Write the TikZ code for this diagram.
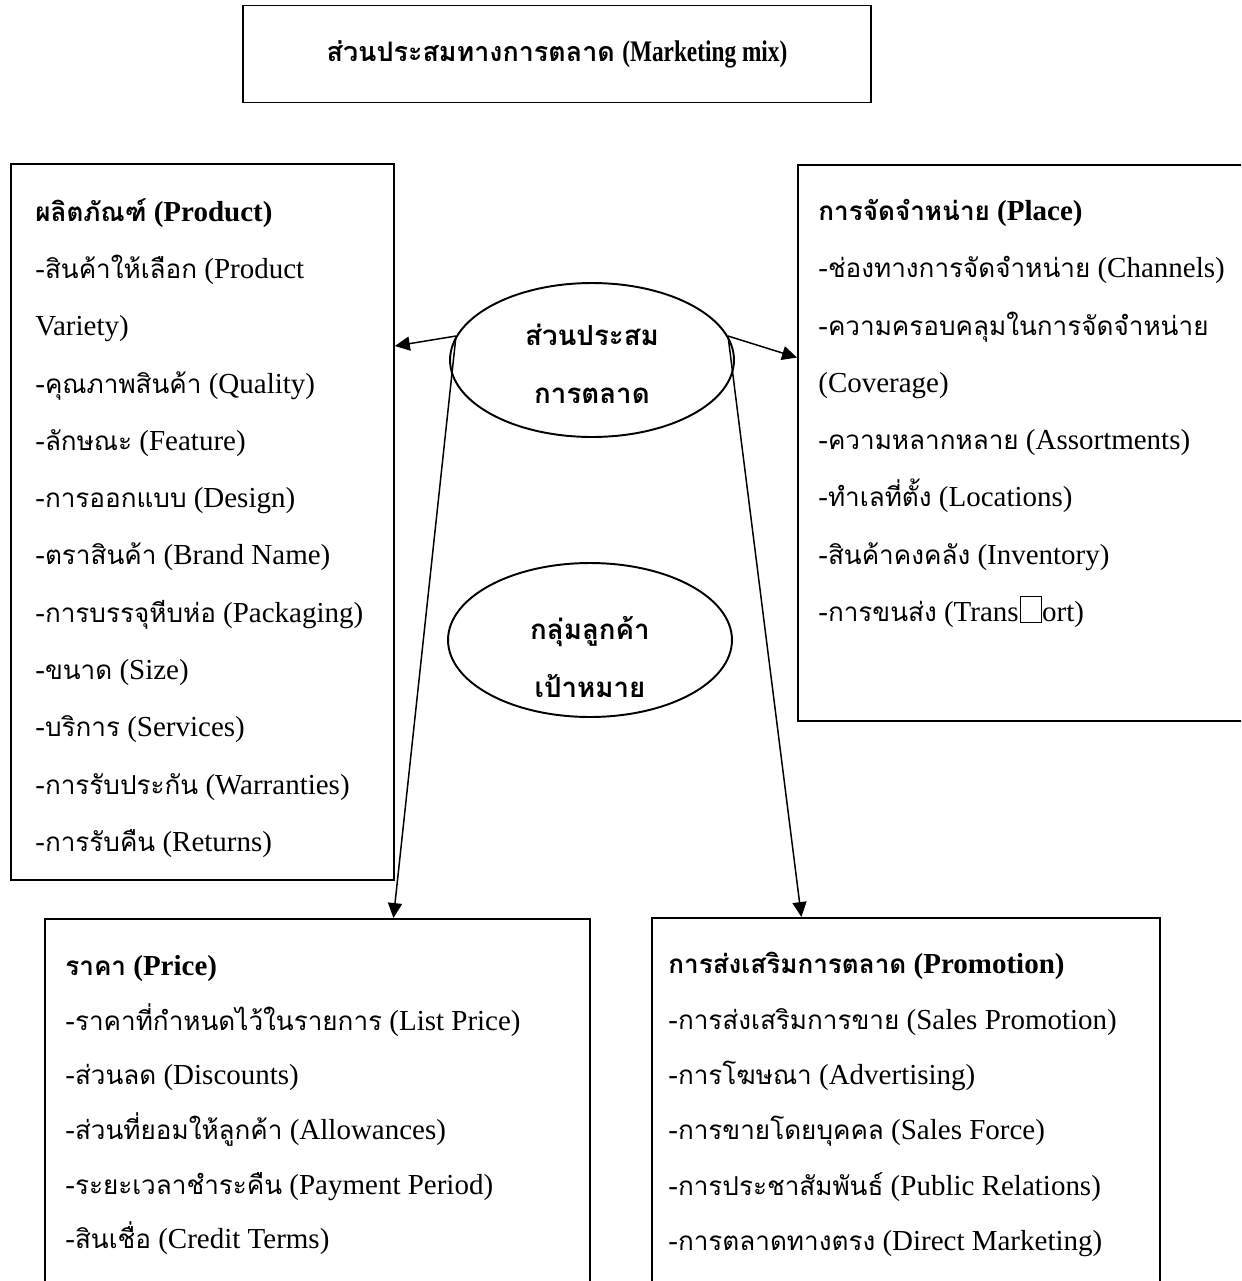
\documentclass[tikz,border=0pt]{standalone}
\usepackage{fontspec}
\usepackage{graphicx}
\setmainfont{Liberation Serif}
\newfontfamily\thaifont[Script=Thai, Scale=0.9]{Loma}
\usetikzlibrary{arrows.meta,positioning,shapes.geometric,calc}
\newcommand{\tf}[1]{{\thaifont #1}}
\newcommand{\nobox}{{\setlength{\fboxsep}{0pt}\setlength{\fboxrule}{0.4pt}\kern1pt\fbox{\rule{0pt}{0.85em}\hspace{0.7em}}}}

\begin{document}
\begin{tikzpicture}[x=0.02cm, y=-0.02cm,
    panel/.style={draw, line width=1.1pt, inner sep=0pt, anchor=north west},
    items/.style={align=left, inner sep=0pt, anchor=north west, font=\fontsize{16.5}{32.6}\selectfont},
    oval/.style={draw, ellipse, line width=1.1pt, inner sep=0pt, minimum width=5.68cm, minimum height=3.08cm},
    ovaltxt/.style={align=center, inner sep=0pt, font=\bfseries\fontsize{17.5}{33}\selectfont},
    arr/.style={-{Triangle[length=8.5pt, width=8pt]}, line width=0.85pt},
  ]
  \useasboundingbox (0,0) rectangle (1241,1281);
  \clip (0,0) rectangle (1241,1281);

  % title
  \node[panel, anchor=center, minimum width=12.58cm, minimum height=1.94cm,
    font=\bfseries\fontsize{17}{20}\selectfont] (mix) at (557,54) {\tf{ส่วนประสมทางการตลาด} \scalebox{0.78}[1]{(Marketing mix)}};

  % the four boxes
  \node[panel, minimum width=7.66cm, minimum height=14.32cm] (product) at (10,163) {};
  \node[panel, minimum width=9.26cm, minimum height=11.12cm] (place) at (797,164) {};
  \node[panel, minimum width=10.9cm, minimum height=8.04cm] (price) at (44,918) {};
  \node[panel, minimum width=10.16cm, minimum height=8.06cm] (promo) at (651,917) {};

  \node[items] (producttxt) at (35,198) {\textbf{\tf{ผลิตภัณฑ์} (Product)}\\
    -\tf{สินค้าให้เลือก} (Product\\
    Variety)\\
    -\tf{คุณภาพสินค้า} (Quality)\\
    -\tf{ลักษณะ} (Feature)\\
    -\tf{การออกแบบ} (Design)\\
    -\tf{ตราสินค้า} (Brand Name)\\
    -\tf{การบรรจุหีบห่อ} (Packaging)\\
    -\tf{ขนาด} (Size)\\
    -\tf{บริการ} (Services)\\
    -\tf{การรับประกัน} (Warranties)\\
    -\tf{การรับคืน} (Returns)};

  \node[items] (placetxt) at (818,199) {\textbf{\tf{การจัดจำหน่าย} (Place)}\\
    -\tf{ช่องทางการจัดจำหน่าย} (Channels)\\
    -\tf{ความครอบคลุมในการจัดจำหน่าย}\\
    (Coverage)\\
    -\tf{ความหลากหลาย} (Assortments)\\
    -\tf{ทำเลที่ตั้ง} (Locations)\\
    -\tf{สินค้าคงคลัง} (Inventory)\\
    -\tf{การขนส่ง} (Trans\nobox ort)};

  \node[items, font=\fontsize{16.5}{31.1}\selectfont] (pricetxt) at (65,955) {\textbf{\tf{ราคา} (Price)}\\
    -\tf{ราคาที่กำหนดไว้ในรายการ} (List Price)\\
    -\tf{ส่วนลด} (Discounts)\\
    -\tf{ส่วนที่ยอมให้ลูกค้า} (Allowances)\\
    -\tf{ระยะเวลาชำระคืน} (Payment Period)\\
    -\tf{สินเชื่อ} (Credit Terms)};

  \node[items, font=\fontsize{16.5}{31.5}\selectfont] (promotxt) at (668,952) {\textbf{\tf{การส่งเสริมการตลาด} (Promotion)}\\
    -\tf{การส่งเสริมการขาย} (Sales Promotion)\\
    -\tf{การโฆษณา} (Advertising)\\
    -\tf{การขายโดยบุคคล} (Sales Force)\\
    -\tf{การประชาสัมพันธ์} (Public Relations)\\
    -\tf{การตลาดทางตรง} (Direct Marketing)};

  % ovals
  \node[oval] (mixoval) at (592,360) {};
  \node[ovaltxt] (mixovaltxt) at ([yshift=-0.08cm]mixoval.center) {\tf{ส่วนประสม}\\\tf{การตลาด}};
  \node[oval] (target) at (590,640) {};
  \node[ovaltxt] (targettxt) at ([yshift=-0.34cm]target.center) {\tf{กลุ่มลูกค้า}\\\tf{เป้าหมาย}};

  % arrows
  \draw[arr] (mixoval.170) -- ($(product.north east)!0.255!(product.south east)$);
  \draw[arr] (mixoval.10) -- ($(place.north west)!0.347!(place.south west)$);
  \draw[arr] (mixoval.170) -- ($(price.north west)!0.639!(price.north east)$);
  \draw[arr] (mixoval.10) -- ($(promo.north west)!0.295!(promo.north east)$);
\end{tikzpicture}
\end{document}
